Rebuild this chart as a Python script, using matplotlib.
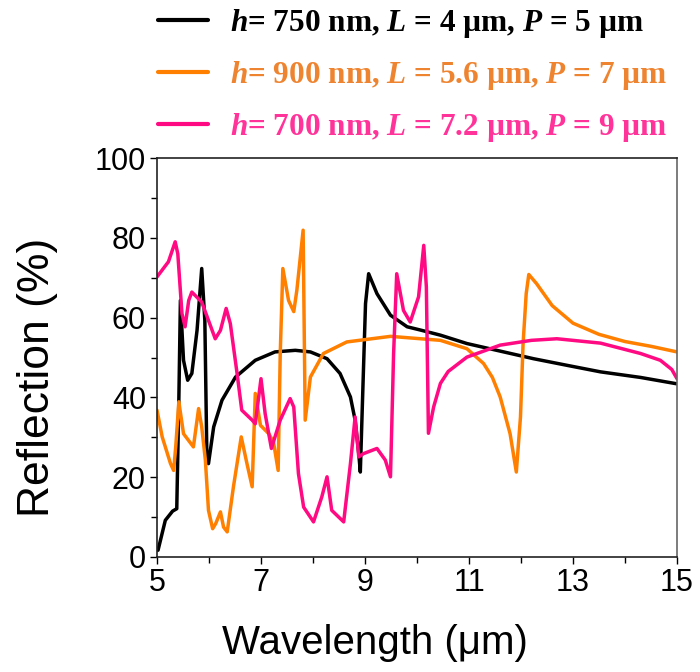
import matplotlib
matplotlib.use("Agg")
import matplotlib.pyplot as plt
from matplotlib.ticker import FixedLocator

# ---- data ----
wl_black = [5.02, 5.16, 5.3, 5.38, 5.42, 5.45, 5.51, 5.59, 5.67, 5.77, 5.86, 5.92, 5.96, 5.99, 6.09, 6.25,
            6.51, 6.89, 7.27, 7.66, 7.95, 8.27, 8.52, 8.72, 8.81, 8.88, 8.91, 8.96, 9.01, 9.07, 9.23, 9.49,
            9.81, 10.06, 10.45, 10.96, 11.6, 12.24, 12.9, 13.53, 14.3, 15.0]
r_black = [1.7, 9.2, 11.5, 12.1, 39.3, 64.3, 49.3, 44.3, 46.0, 56.8, 72.3, 59.3, 24.3, 23.4, 32.6, 39.3,
           45.1, 49.3, 51.4, 51.8, 51.4, 49.7, 46.0, 40.1, 34.3, 25.9, 21.3, 42.6, 63.5, 71.0, 66.0, 60.6,
           57.7, 56.9, 55.6, 53.5, 51.6, 49.7, 48.0, 46.4, 45.0, 43.4]

wl_orange = [5.0, 5.1, 5.26, 5.32, 5.36, 5.42, 5.51, 5.7, 5.8, 5.86, 5.93, 5.99, 6.07, 6.13, 6.22, 6.28,
             6.35, 6.47, 6.62, 6.73, 6.83, 6.89, 6.99, 7.15, 7.24, 7.33, 7.37, 7.42, 7.53, 7.63, 7.69,
             7.81, 7.85, 7.95, 8.2, 8.65, 9.49, 10.45, 10.96, 11.28, 11.45, 11.6, 11.79, 11.91, 11.99,
             12.04, 12.1, 12.15, 12.3, 12.6, 13.0, 13.5, 14.0, 14.5, 15.0]
r_orange = [36.8, 30.1, 23.4, 21.7, 27.6, 38.9, 30.9, 27.6, 37.2, 32.6, 24.3, 11.7, 7.1, 8.4, 11.3, 7.5,
            6.3, 17.6, 30.1, 23.4, 17.6, 41.0, 33.0, 30.9, 28.8, 21.7, 51.0, 72.3, 64.3, 61.5, 66.9,
            81.9, 34.3, 45.1, 51.0, 53.9, 55.3, 54.3, 52.2, 48.5, 45.0, 40.1, 30.9, 21.3, 35.1,
            53.5, 66.0, 70.8, 68.5, 63.0, 58.6, 55.8, 54.0, 52.8, 51.4]

wl_pink = [5.0, 5.22, 5.35, 5.4, 5.48, 5.54, 5.61, 5.67, 5.86, 5.99, 6.12, 6.22, 6.33, 6.41, 6.54, 6.63,
           6.83, 6.89, 7.0, 7.08, 7.2, 7.37, 7.56, 7.63, 7.72, 7.82, 8.01, 8.17, 8.27, 8.36, 8.59, 8.72,
           8.81, 8.88, 8.97, 9.23, 9.39, 9.49, 9.55, 9.61, 9.74, 9.87, 10.03, 10.13, 10.18, 10.22, 10.32,
           10.45, 10.6, 10.96, 11.6, 12.2, 12.69, 13.53, 14.3, 14.68, 14.9, 15.0]
r_pink = [70.2, 74.0, 79.0, 76.0, 61.0, 57.7, 64.3, 66.4, 63.9, 59.3, 54.7, 56.8, 62.3, 58.5, 46.0, 36.8,
          34.3, 33.4, 44.7, 35.9, 27.2, 34.3, 39.7, 37.6, 20.9, 12.5, 8.8, 15.1, 20.1, 11.7, 8.8, 23.4,
          35.1, 25.1, 25.9, 27.2, 24.3, 20.1, 51.0, 71.0, 61.8, 58.9, 65.2, 78.1, 67.7, 31.0, 37.6,
          43.5, 46.5, 50.1, 53.1, 54.3, 54.7, 53.6, 51.0, 49.3, 47.0, 44.7]

x_ticks = [5, 7, 9, 11, 13, 15]
x_minor = [6, 8, 10, 12, 14]
y_ticks = [0, 20, 40, 60, 80, 100]
y_minor = [10, 30, 50, 70, 90]

labels = [r"$h$= 750 nm, $L$ = 4 µm, $P$ = 5 µm",
          r"$h$= 900 nm, $L$ = 5.6 µm, $P$ = 7 µm",
          r"$h$= 700 nm, $L$ = 7.2 µm, $P$ = 9 µm"]
line_colors = ["#000000", "#FF8000", "#FF0A82"]
text_colors = ["#000000", "#EE8430", "#FF3399"]

# ---- style ----
plt.rcParams["mathtext.fontset"] = "custom"
plt.rcParams["mathtext.rm"] = "Liberation Serif:bold"
plt.rcParams["mathtext.bf"] = "Liberation Serif:bold"
plt.rcParams["mathtext.it"] = "Liberation Serif:italic:bold"
plt.rcParams["font.family"] = ["Liberation Sans", "DejaVu Sans"]

fig = plt.figure(figsize=(7.0, 6.72), dpi=100)
ax = fig.add_axes([157 / 700, 1 - 557 / 672, 520 / 700, 399 / 672])

handles = []
for wl, r, c in zip([wl_black, wl_orange, wl_pink], [r_black, r_orange, r_pink], line_colors):
    h, = ax.plot(wl, r, color=c, lw=2.5, solid_joinstyle="round", solid_capstyle="round")
    handles.append(h)

ax.set_xlim(5, 15)
ax.set_ylim(0, 100)
ax.xaxis.set_major_locator(FixedLocator(x_ticks))
ax.xaxis.set_minor_locator(FixedLocator(x_minor))
ax.yaxis.set_major_locator(FixedLocator(y_ticks))
ax.yaxis.set_minor_locator(FixedLocator(y_minor))
ax.tick_params(which="both", direction="out", top=False, right=False, width=1.0, labelsize=22, pad=3)
ax.tick_params(which="major", length=5)
ax.tick_params(which="minor", length=4)
for s in ["left", "bottom", "top"]:
    ax.spines[s].set_linewidth(1.2)
    ax.spines[s].set_color("#222222")
ax.spines["right"].set_color("#666666")
ax.spines["right"].set_linewidth(1.2)

ax.set_xlabel("Wavelength (μm)", fontsize=29)
ax.xaxis.set_label_coords((375 - 157) / 520, -(624 - 557) / 399)
ax.set_ylabel("Reflection (%)", fontsize=32)
ax.yaxis.set_label_coords(-(157 - 58) / 520, (557 - 377) / 399)

leg = fig.legend(handles, labels, loc="upper left", bbox_to_anchor=(158 / 700, 1 - 7 / 672),
                 frameon=False, borderpad=0, borderaxespad=0, handlelength=1.6, handletextpad=0.7,
                 labelspacing=0.6, prop={"family": "Liberation Serif", "weight": "bold", "size": 22.5})
for t, c in zip(leg.get_texts(), text_colors):
    t.set_color(c)
for l in leg.get_lines():
    l.set_linewidth(3)

fig.savefig("out.png", dpi=100)
